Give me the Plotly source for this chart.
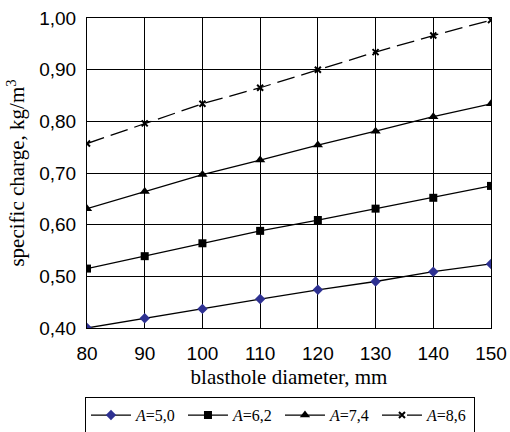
import plotly.graph_objects as go

diameter = [80, 90, 100, 110, 120, 130, 140, 150]
a50 = [0.400, 0.419, 0.437, 0.456, 0.474, 0.490, 0.509, 0.524]
a62 = [0.515, 0.539, 0.564, 0.588, 0.609, 0.631, 0.652, 0.675]
a74 = [0.631, 0.664, 0.697, 0.725, 0.754, 0.781, 0.809, 0.834]
a86 = [0.757, 0.796, 0.834, 0.865, 0.900, 0.934, 0.966, 0.996]
names = ["<i>A</i>=5,0", "<i>A</i>=6,2", "<i>A</i>=7,4", "<i>A</i>=8,6"]

fig = go.Figure()
fig.add_trace(go.Scatter(x=diameter, y=a50, name=names[0], mode="lines+markers",
                         line=dict(color="black", width=1.3),
                         marker=dict(symbol="diamond", size=8, color="#2E3192")))
fig.add_trace(go.Scatter(x=diameter, y=a62, name=names[1], mode="lines+markers",
                         line=dict(color="black", width=1.3),
                         marker=dict(symbol="square", size=8, color="black")))
fig.add_trace(go.Scatter(x=diameter, y=a74, name=names[2], mode="lines+markers",
                         line=dict(color="black", width=1.3),
                         marker=dict(symbol="triangle-up", size=9, color="black")))
fig.add_trace(go.Scatter(x=diameter, y=a86, name=names[3], mode="lines+markers",
                         line=dict(color="black", width=1.3, dash="18px,7px"),
                         marker=dict(symbol="x-thin-open", size=6,
                                     line=dict(color="black", width=2))))

fig.update_layout(
    width=510, height=432,
    margin=dict(l=87, r=19, t=18, b=104, autoexpand=False),
    paper_bgcolor="white", plot_bgcolor="white",
    separators=", ",
    showlegend=True,
    legend=dict(orientation="h", x=-0.005, xanchor="left", y=-0.223, yanchor="top",
                bordercolor="black", borderwidth=1,
                font=dict(family="Liberation Serif", size=16, color="black"),
                itemwidth=40, tracegroupgap=0, entrywidth=42, entrywidthmode="pixels"),
    font=dict(family="Liberation Sans", color="black"),
)
fig.update_xaxes(range=[80, 150], dtick=10, tick0=80, automargin=False,
                 showgrid=True, gridcolor="black", gridwidth=1,
                 showline=True, linecolor="black", linewidth=1, mirror=True,
                 ticks="", ticklabelstandoff=8,
                 tickfont=dict(family="Liberation Sans", size=19, color="black"),
                 title=dict(text="blasthole diameter, mm",
                            font=dict(family="Liberation Serif", size=21, color="black"),
                            standoff=6),
                 zeroline=False)
fig.update_yaxes(range=[0.40, 1.00], dtick=0.1, tick0=0.4, tickformat=".2f", automargin=False,
                 showgrid=True, gridcolor="black", gridwidth=1,
                 showline=True, linecolor="black", linewidth=1, mirror=True,
                 ticks="", ticklabelstandoff=6,
                 tickfont=dict(family="Liberation Sans", size=19, color="black"),
                 title=dict(text="specific charge, kg/m<sup>3</sup>",
                            font=dict(family="Liberation Serif", size=21, color="black"),
                            standoff=8),
                 zeroline=False)

fig.write_html("out.html")
